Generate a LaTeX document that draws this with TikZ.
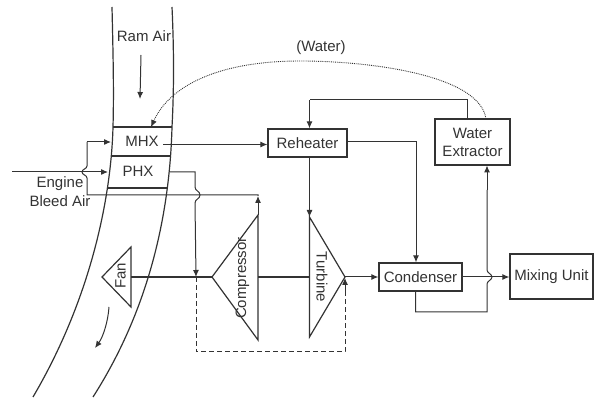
\documentclass[tikz,border=0pt]{standalone}
\usepackage{fontspec}
\setmainfont{Liberation Sans}
\usetikzlibrary{arrows.meta,calc}
\definecolor{ink}{gray}{0.2}
\tikzset{
  wire/.style={draw=ink,line width=1pt,line join=miter},
  flow/.style={wire,-{Latex[length=7pt,width=6pt]}},
  wall/.style={draw=ink,line width=1.2pt},
  shaft/.style={draw=ink,line width=1.9pt},
  bypass/.style={draw=ink,line width=1pt,dash pattern=on 5pt off 3pt},
  water/.style={draw=ink,line width=0.9pt,densely dotted,-{Latex[length=7pt,width=6pt]}},
  unit/.style={draw=ink,line width=1.2pt,rectangle,inner sep=0pt,align=center,text=ink},
  lbl/.style={inner sep=0pt,text=ink,align=center},
  every node/.append style={font=\fontsize{15}{18}\selectfont}
}
\begin{document}
\begin{tikzpicture}[x=1pt,y=-1pt]
\useasboundingbox (0,0) rectangle (598,398);
% duct
\draw[wall] (112,7) .. controls (113,50) and (114,90) .. (113,127)
  .. controls (111,200) and (90,300) .. (33,397);
\draw[wall] (172,7) .. controls (174,50) and (174,90) .. (172,127)
  .. controls (170,200) and (155,300) .. (93,397);
% heat exchanger dividers
\coordinate (mhxTL) at (113,127); \coordinate (mhxTR) at (172,127);
\coordinate (mhxBL) at (110.5,156); \coordinate (mhxBR) at (171,156);
\coordinate (phxBL) at (108,188); \coordinate (phxBR) at (167,188);
\draw[wall] (mhxTL) -- (mhxTR);
\draw[wall] (mhxBL) -- (mhxBR);
\draw[wall] (phxBL) -- (phxBR);
% text labels
\node[lbl] (ram) at (144,36) {Ram Air};
\node[lbl] (mhx) at (142,141) {MHX};
\node[lbl] (phx) at (138,171) {PHX};
\node[lbl,anchor=center] (engine) at (60,184) {Engine};
\node[lbl,anchor=center] (bleed) at (60,201) {Bleed Air};
\node[lbl] (waterlbl) at (321,48) {(Water)};
% boxes
\node[unit,minimum width=79pt,minimum height=28pt] (reheater) at (307.5,143) {Reheater};
\node[unit,minimum width=75pt,minimum height=46pt] (extractor) at (472.5,142) {Water\\Extractor};
\node[unit,minimum width=83pt,minimum height=28pt] (condenser) at (420.5,277) {Condenser};
\node[unit,minimum width=83pt,minimum height=45pt] (mixing) at (551.5,276.5) {Mixing Unit};
% machines
\coordinate (fanTip) at (102,277); \coordinate (fanT) at (131,247); \coordinate (fanB) at (131,307); \coordinate (fanM) at (131,277);
\coordinate (compTip) at (212,277); \coordinate (compT) at (258,215); \coordinate (compB) at (258,340); \coordinate (compM) at (258,277);
\coordinate (turbTip) at (345,277); \coordinate (turbT) at (309.5,217); \coordinate (turbB) at (309.5,337); \coordinate (turbM) at (309.5,277);
\draw[wall,line join=miter] (fanTip) -- (fanT) -- (fanB) -- cycle;
\draw[wall,line join=miter] (compTip) -- (compT) -- (compB) -- cycle;
\draw[wall,line join=miter] (turbTip) -- (turbT) -- (turbB) -- cycle;
\node[lbl,rotate=90] (fan) at (120.5,276) {Fan};
\node[lbl,rotate=90] (comp) at (242.5,278) {Compressor};
\node[lbl,rotate=-90] (turb) at (322,277) {Turbine};
\draw[shaft] (fanM) -- (compTip);
\draw[shaft] (compM) -- (turbM);
% air arrows
\coordinate (ramA) at (141,55); \coordinate (ramB) at (140,99);
\draw[flow] (ramA) -- (ramB);
\coordinate (exA) at (109,307); \coordinate (exB) at (95,348);
\draw[flow] (exA) .. controls (108,322) and (103,337) .. (exB);
% bleed air in
\coordinate (bleedIn) at (12,172); \coordinate (phxIn) at (108,172);
\draw[flow] (bleedIn) -- (phxIn);
% compressor outlet to MHX inlet, hopping the bleed line
\coordinate (mhxIn) at (111,142); \coordinate (elbowA) at (87,142); \coordinate (elbowB) at (87,195);
\coordinate (compOut) at (258,196);
\draw[flow] (compT) -- (compOut);
\draw[wire] (compOut) -- (258,195) -- (elbowB) -- (87,178)
  .. controls (87,175) and (82,175) .. (82,172)
  .. controls (82,169) and (87,169) .. (87,166) -- (elbowA);
\draw[flow] (elbowA) -- (mhxIn);
% PHX outlet to compressor inlet, hopping the duct line
\coordinate (phxOut) at (170,172); \coordinate (phxA) at (195,172); \coordinate (phxB) at (195.5,240); \coordinate (shaftHit) at (196,277);
\draw[wire] (phxOut) -- (phxA) -- (195,187)
  .. controls (195,191) and (200,191) .. (200,195)
  .. controls (200,199) and (195,199) .. (195,203) -- (phxB);
\draw[flow] (phxB) -- (shaftHit);
% bypass
\coordinate (bypA) at (196,352); \coordinate (bypB) at (345,352); \coordinate (bypC) at (345,295); \coordinate (bypEnd) at (345,278);
\draw[bypass] (shaftHit) -- (bypA) -- (bypB) -- (bypC);
\draw[bypass,solid,-{Latex[length=7pt,width=6pt]}] (bypC) -- (bypEnd);
% MHX to reheater
\coordinate (mhxOut) at (163,144.5);
\draw[flow] (mhxOut) -- (mhxOut -| reheater.west);
% reheater to turbine
\draw[flow] (reheater.south -| turbT) -- (turbT);
% reheater to condenser
\coordinate (rhOut) at (reheater.east |- 0,142); \coordinate (condIn) at (416,0);
\draw[flow] (rhOut) -| (condIn |- condenser.north);
% turbine to condenser
\draw[flow] (turbTip) -- (condenser.west);
% condenser to mixing
\draw[flow] (condenser.east) -- (mixing.west |- condenser.east);
% condenser to extractor
\coordinate (condOut) at (415.5,291); \coordinate (loopA) at (415.5,312); \coordinate (loopB) at (487,312); \coordinate (loopC) at (487,190); \coordinate (exIn) at (487,165.5);
\draw[wire] (condOut) -- (loopA) -- (loopB) -- (487,284)
  .. controls (487,281) and (492,280) .. (492,277)
  .. controls (492,274) and (487,273) .. (487,270) -- (loopC);
\draw[flow] (loopC) -- (exIn);
% extractor to reheater
\coordinate (exOut) at (467,119); \coordinate (exUp) at (467,100); \coordinate (exLeft) at (309.5,100);
\draw[wire] (exOut) -- (exUp) -- (exLeft);
\draw[flow] (exLeft) -- (exLeft |- reheater.north);
% water
\coordinate (watStart) at (486,119); \coordinate (watTop) at (300,61); \coordinate (watEnd) at (151,127);
\draw[water] (watStart) .. controls (480,75) and (370,61) .. (watTop)
  .. controls (220,61) and (170,85) .. (watEnd);
\end{tikzpicture}
\end{document}
